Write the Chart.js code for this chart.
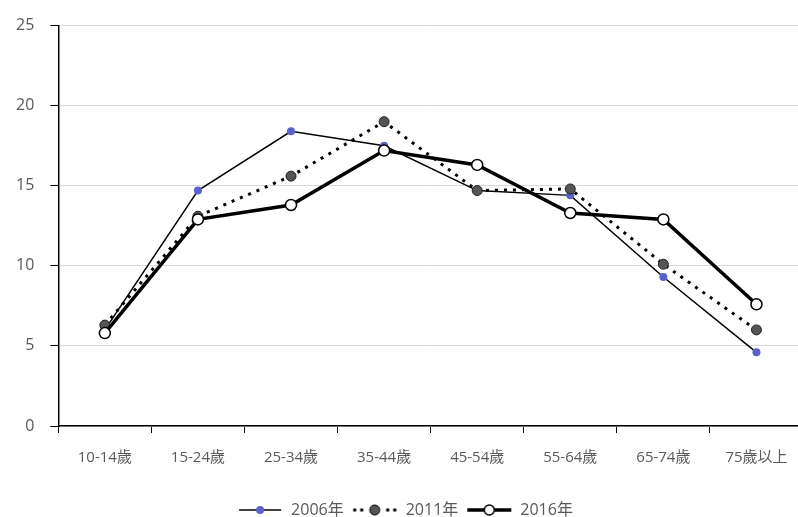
<!DOCTYPE html>
<html>
<head>
<meta charset="utf-8">
<script src="https://cdn.jsdelivr.net/npm/chart.js@4.4.0/dist/chart.umd.min.js"></script>
<style>
  html, body { margin: 0; padding: 0; background: #fff; overflow: hidden; }
  #wrap { width: 810px; height: 528px; }
</style>
</head>
<body>
<div id="wrap"><canvas id="myChart01"></canvas></div>
<script>
// 年齢層
var categories = ['10-14歲', '15-24歲', '25-34歲', '35-44歲', '45-54歲', '55-64歲', '65-74歲', '75歲以上'];
var seriesNames = ['2006年', '2011年', '2016年'];
var values2006 = [6.0, 14.7, 18.4, 17.5, 14.7, 14.4, 9.3, 4.6];
var values2011 = [6.3, 13.1, 15.6, 19.0, 14.7, 14.8, 10.1, 6.0];
var values2016 = [5.8, 12.9, 13.8, 17.2, 16.3, 13.3, 12.9, 7.6];
var yTicks = [0, 5, 10, 15, 20, 25];

// 圖例用的小圖 (線+點)
function legendIcon(kind) {
    var c = document.createElement('canvas');
    c.width = 46; c.height = 14;
    var g = c.getContext('2d');
    g.strokeStyle = '#000';
    if (kind === 0) {
        g.lineWidth = 1.5;
        g.beginPath(); g.moveTo(2, 7); g.lineTo(44, 7); g.stroke();
        g.fillStyle = '#5b62cc';
        g.beginPath(); g.arc(23, 7, 4, 0, Math.PI * 2); g.fill();
    } else if (kind === 1) {
        g.fillStyle = '#000';
        [3, 10, 36, 43].forEach(function (x) { g.fillRect(x - 1.5, 5.5, 3, 3); });
        g.fillStyle = '#555';
        g.lineWidth = 1;
        g.beginPath(); g.arc(23, 7, 5, 0, Math.PI * 2); g.fill(); g.stroke();
    } else {
        g.lineWidth = 3.5;
        g.beginPath(); g.moveTo(1, 7); g.lineTo(45, 7); g.stroke();
        g.fillStyle = '#fff';
        g.lineWidth = 1.5;
        g.beginPath(); g.arc(23, 7, 5, 0, Math.PI * 2); g.fill(); g.stroke();
    }
    return c;
}
var icons = [legendIcon(0), legendIcon(1), legendIcon(2)];

var ctx01 = document.getElementById('myChart01');
var chart01 = new Chart(ctx01, {
    type: 'line',
    data: {
        labels: categories,
        datasets: [{
            label: seriesNames[0],
            data: values2006,
            borderColor: '#000',
            borderWidth: 1.5,
            pointBackgroundColor: '#5b62cc',
            pointBorderColor: '#5b62cc',
            pointBorderWidth: 0,
            pointRadius: 4,
            order: 2
        }, {
            label: seriesNames[1],
            data: values2011,
            borderColor: '#000',
            borderWidth: 3,
            borderDash: [3, 6],
            pointBackgroundColor: '#555',
            pointBorderColor: '#222',
            pointBorderWidth: 1,
            pointRadius: 5,
            order: 1
        }, {
            label: seriesNames[2],
            data: values2016,
            borderColor: '#000',
            borderWidth: 3.5,
            pointBackgroundColor: '#fff',
            pointBorderColor: '#000',
            pointBorderWidth: 1.5,
            pointRadius: 5.5,
            order: 0
        }]
    },
    options: {
        responsive: true,
        maintainAspectRatio: false,
        animation: false,
        layout: { padding: { left: 0, right: 0, top: 8, bottom: 0 } },
        plugins: {
            tooltip: { enabled: false },
            legend: {
                position: 'bottom',
                labels: {
                    usePointStyle: true,
                    pointStyleWidth: 46,
                    boxHeight: 14,
                    padding: 8,
                    color: '#595959',
                    font: { family: 'Open Sans, "Noto Sans CJK TC", sans-serif', size: 16 },
                    generateLabels: function (chart) {
                        return chart.data.datasets.map(function (ds, i) {
                            return {
                                text: ds.label,
                                pointStyle: icons[i],
                                datasetIndex: i,
                                fontColor: '#595959',
                                lineWidth: 0,
                                hidden: false
                            };
                        });
                    }
                }
            }
        },
        scales: {
            x: {
                offset: true,
                afterFit: function (scale) { scale.height += 11; },
                border: { color: '#000', width: 1.5 },
                grid: {
                    offset: true,
                    drawOnChartArea: false,
                    drawTicks: true,
                    tickLength: 7,
                    tickColor: '#000'
                },
                ticks: {
                    color: '#595959',
                    padding: 16,
                    maxRotation: 0,
                    autoSkip: false,
                    font: { family: 'Open Sans, "Noto Sans CJK TC", sans-serif', size: 15 }
                }
            },
            y: {
                min: 0,
                max: 25,
                afterBuildTicks: function (axis) {
                    axis.ticks = yTicks.map(function (v) { return { value: v }; });
                },
                border: { color: '#000', width: 1.5 },
                grid: {
                    color: '#d9d9d9',
                    lineWidth: 1,
                    tickLength: 8,
                    tickColor: '#000'
                },
                ticks: {
                    color: '#595959',
                    padding: 16,
                    font: { family: 'Open Sans, sans-serif', size: 16 }
                }
            }
        }
    }
});
</script>
</body>
</html>
